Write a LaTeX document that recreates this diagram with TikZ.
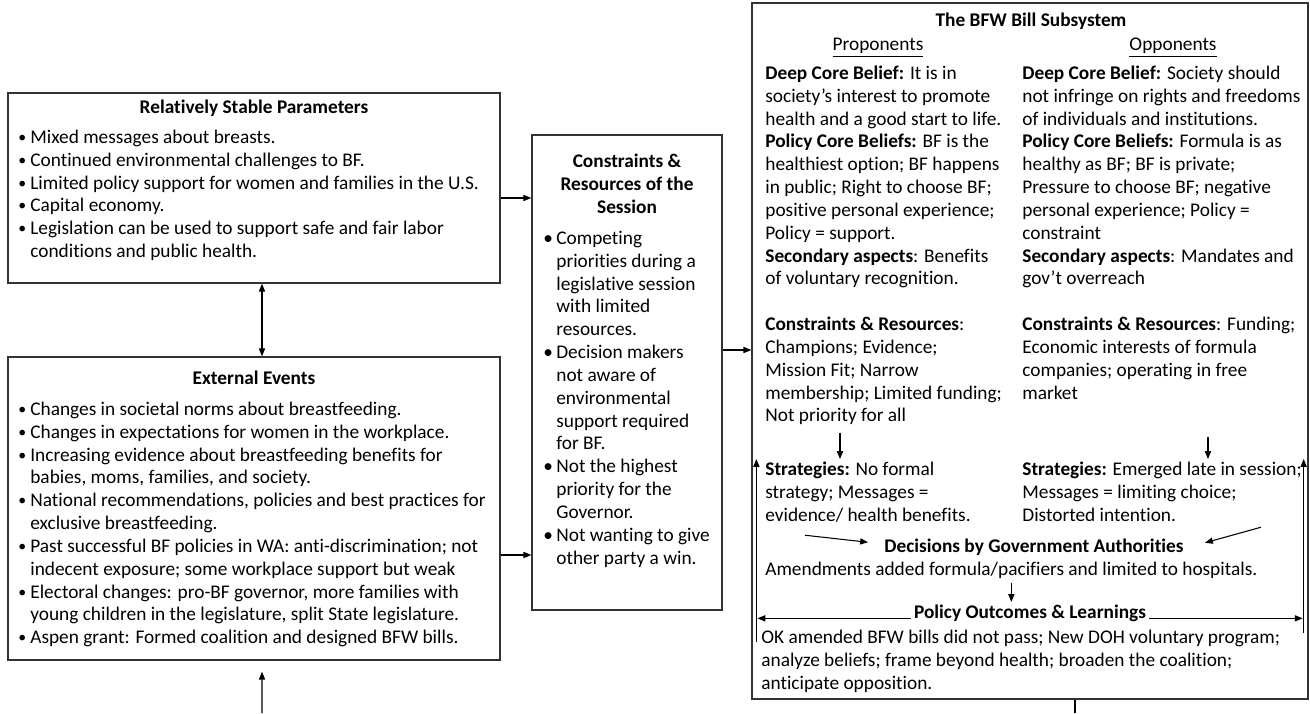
\documentclass[tikz,border=0pt]{standalone}
\usepackage{fontspec}
\setmainfont{Carlito}[Ligatures={TeX,NoCommon}]
\usetikzlibrary{arrows.meta}

\newcommand{\sbul}{\makebox[0.24cm][l]{\raisebox{0.05em}{\small\textbullet}}}
\newcommand{\bul}{\makebox[0.26cm][l]{\textbullet}}
\newcommand{\hang}{\hspace*{0.24cm}}
\newcommand{\shang}{\hspace*{0.26cm}}

\begin{document}
\begin{tikzpicture}
		[x=0.02cm, y=-0.02cm,
		 frame/.style= {draw=black!80, line width=0.8pt, inner sep=0pt},
		 words/.style= {inner sep=0pt, align=left, anchor=north west, font=\fontsize{11}{13}\selectfont},
		 head/.style= {inner sep=0pt, align=center, anchor=north, font=\fontsize{11}{13}\selectfont\bfseries},
		 link/.style= {-{Triangle[length=4.5pt,width=3.5pt]}, line width=0.6pt},
		 both/.style= {{Triangle[length=4.5pt,width=3.5pt]}-{Triangle[length=4.5pt,width=3.5pt]}, line width=0.6pt}]

		\useasboundingbox (0,0) rectangle (1310,713);

		\node[frame, minimum width=9.84cm, minimum height=3.8cm] (stable) at (254,188) {};
		\node[frame, minimum width=9.84cm, minimum height=6.06cm] (external) at (254,508.5) {};
		\node[frame, minimum width=3.8cm, minimum height=9.5cm] (session) at (627,372.5) {};
		\node[frame, minimum width=11.12cm, minimum height=13.92cm] (bfw) at (1030,351) {};

		\node[head] (stablehead) at (254,97) {\strut Relatively Stable Parameters};
		\node[words] (stablelist) at (18,127) {\strut\sbul Mixed messages about breasts.\\
			\sbul Continued environmental challenges to BF.\\
			\sbul Limited policy support for women and families in the U.S.\\
			\sbul Capital economy.\\
			\sbul Legislation can be used to support safe and fair labor\\
			\hang conditions and public health.\strut};

		\node[head] (externalhead) at (254,368) {\strut External Events};
		\node[words] (externallist) at (18,399) {\strut\sbul Changes in societal norms about breastfeeding.\\
			\sbul Changes in expectations for women in the workplace.\\
			\sbul Increasing evidence about breastfeeding benefits for\\
			\hang babies, moms, families, and society.\\
			\sbul National recommendations, policies and best practices for\\
			\hang exclusive breastfeeding.\\
			\sbul Past successful BF policies in WA: anti-discrimination; not\\
			\hang indecent exposure; some workplace support but weak\\
			\sbul Electoral changes: pro-BF governor, more families with\\
			\hang young children in the legislature, split State legislature.\\
			\sbul Aspen grant: Formed coalition and designed BFW bills.\strut};

		\node[head] (sessionhead) at (627,151) {\strut Constraints \&\\ Resources of the\\ Session};
		\node[words] (sessionlist) at (543,228) {\strut\bul Competing\\
			\shang priorities during a\\
			\shang legislative session\\
			\shang with limited\\
			\shang resources.\\
			\bul Decision makers\\
			\shang not aware of\\
			\shang environmental\\
			\shang support required\\
			\shang for BF.\\
			\bul Not the highest\\
			\shang priority for the\\
			\shang Governor.\\
			\bul Not wanting to give\\
			\shang other party a win.\strut};

		\node[head] (bfwhead) at (1031,10) {\strut The BFW Bill Subsystem};
		\node[words, anchor=north] (prolabel) at (878,34) {\strut\underline{Proponents}};
		\node[words, anchor=north] (opplabel) at (1173,34) {\strut\underline{Opponents}};

		\node[words] (propcore) at (765,63) {\strut\textbf{Deep Core Belief:} It is in\\
			society's interest to promote\\
			health and a good start to life.\\
			\textbf{Policy Core Beliefs:} BF is the\\
			healthiest option; BF happens\\
			in public; Right to choose BF;\\
			positive personal experience;\\
			Policy = support.\\
			\textbf{Secondary aspects}: Benefits\\
			of voluntary recognition.\\[13pt]
			\textbf{Constraints \& Resources}:\\
			Champions; Evidence;\\
			Mission Fit; Narrow\\
			membership; Limited funding;\\
			Not priority for all\strut};
		\node[words] (oppcore) at (1022,63) {\strut\textbf{Deep Core Belief:} Society should\\
			not infringe on rights and freedoms\\
			of individuals and institutions.\\
			\textbf{Policy Core Beliefs:} Formula is as\\
			healthy as BF; BF is private;\\
			Pressure to choose BF; negative\\
			personal experience; Policy =\\
			constraint\\
			\textbf{Secondary aspects}: Mandates and\\
			gov't overreach\\[13pt]
			\textbf{Constraints \& Resources}: Funding;\\
			Economic interests of formula\\
			companies; operating in free\\
			market\strut};

		\node[words] (propstrat) at (765,459) {\strut\textbf{Strategies:} No formal\\
			strategy; Messages =\\
			evidence/ health benefits.\strut};
		\node[words] (oppstrat) at (1022,459) {\strut\textbf{Strategies:} Emerged late in session;\\
			Messages = limiting choice;\\
			Distorted intention.\strut};

		\node[head] (decide) at (1034,536) {\strut Decisions by Government Authorities};
		\node[words] (amend) at (765,559) {\strut Amendments added formula/pacifiers and limited to hospitals.\strut};
		\node[head, inner xsep=1.5pt] (outcome) at (1030,602) {\strut Policy Outcomes \& Learnings};
		\node[words] (results) at (761,627) {\strut OK amended BFW bills did not pass; New DOH voluntary program;\\
			analyze beliefs; frame beyond health; broaden the coalition;\\
			anticipate opposition.\strut};

		\coordinate (feed) at (262,713);
		\coordinate (loop) at (1075,713);

		\draw[both] ([xshift=0.16cm]stable.south) -- ([xshift=0.16cm]external.north);
		\draw[link, shorten >=0.22cm] (feed) -- ([xshift=0.16cm]external.south);
		\draw[link] ([yshift=-0.2cm]stable.east) -- ([yshift=-0.2cm]stable.east -| session.west);
		\draw[link] ([yshift=-0.93cm]external.east) -- ([yshift=-0.93cm]external.east -| session.west);
		\draw[link] ([yshift=0.45cm]session.east) -- ([yshift=0.45cm]session.east -| bfw.west);
		\draw[line width=0.6pt] (bfw.south -| loop) -- (loop);

		\draw[link, shorten <=2pt] ([xshift=1.5cm]propcore.south west) -- ([xshift=1.5cm]propcore.south west |- propstrat.north);
		\draw[link, shorten <=0.62cm] ([xshift=3.72cm]oppcore.south west) -- ([xshift=3.72cm]oppcore.south west |- oppstrat.north);
		\draw[link] ([xshift=0.8cm,yshift=-0.14cm]propstrat.south west) -- ([xshift=-0.32cm,yshift=0.11cm]decide.west);
		\draw[link] ([xshift=4.78cm,yshift=0.02cm]oppstrat.south west) -- ([xshift=0.42cm,yshift=0.1cm]decide.east);
		\draw[link] (amend.south) -- (amend.south |- outcome.north);
		\draw[link, shorten >=0.12cm] (outcome.base west) -- (outcome.base west -| bfw.west);
		\draw[link, shorten >=0.12cm] (outcome.base east) -- (outcome.base east -| bfw.east);
		\draw[link] ([xshift=0.1cm,yshift=-0.3cm]results.north -| bfw.west) -- ([xshift=0.1cm]propstrat.north -| bfw.west);
		\draw[link] ([xshift=-0.1cm,yshift=-0.12cm]results.north -| bfw.east) -- ([xshift=-0.1cm]propstrat.north -| bfw.east);

	\end{tikzpicture}
\end{document}
